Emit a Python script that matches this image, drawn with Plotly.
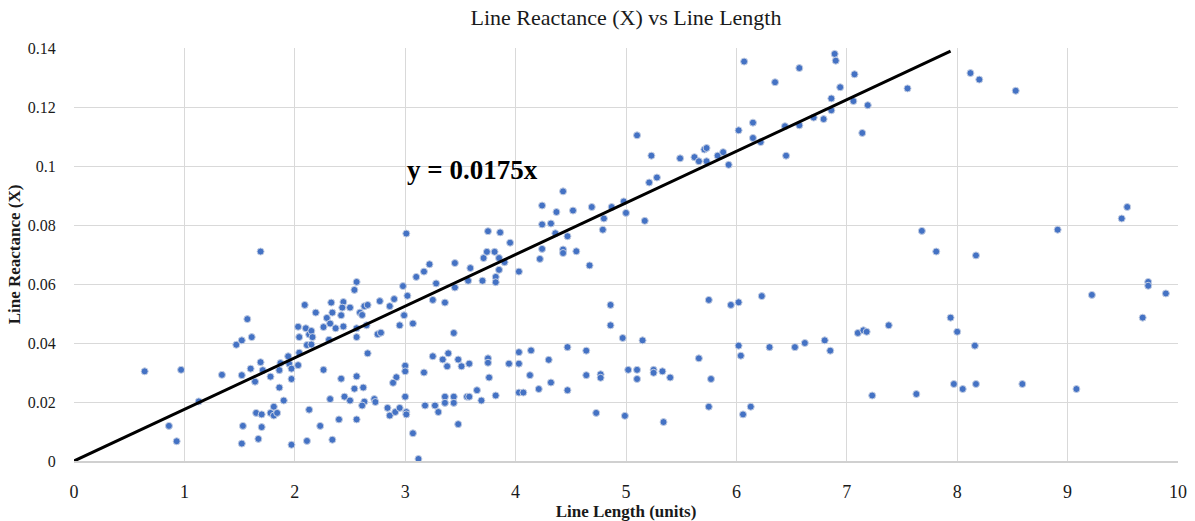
import plotly.graph_objects as go

# Line length (units) and line reactance (X)
line_length = [
    0.64, 0.97, 0.86, 0.93, 1.13, 1.34, 1.47, 1.52, 1.52, 1.53, 1.52, 1.57, 1.60, 1.61, 1.64, 1.65,
    1.67, 1.69, 1.69, 1.70, 1.70, 1.71, 1.78, 1.78, 1.81, 1.81, 1.84, 1.86, 1.86, 1.87, 1.90, 1.94,
    1.95, 1.97, 1.97, 1.97, 2.03, 2.03, 2.04, 2.04, 2.09, 2.10, 2.11, 2.11, 2.13, 2.13,
    2.56, 2.54, 3.22, 3.17, 3.10, 3.45, 3.71, 3.74, 3.81, 3.85, 3.90, 3.85, 4.03, 3.82, 3.82, 3.70,
    3.57, 3.59, 4.22, 3.28, 3.45, 2.98, 3.02, 2.90, 3.25, 3.36, 2.77, 2.86, 2.99, 3.07, 2.95, 3.44,
    2.33, 2.44, 2.50, 2.43, 2.34, 2.19, 2.59, 2.63, 2.66, 2.61, 2.42, 2.29, 2.32, 2.37, 2.44, 2.26,
    2.15, 2.16, 2.15, 2.56, 2.56, 2.65, 2.75, 2.78, 2.31, 2.66, 2.26, 2.42, 2.56, 2.92, 2.89, 3.00,
    3.00, 3.17, 3.25, 3.34, 3.39, 3.38, 3.48, 3.51, 3.58, 3.75, 3.75, 3.76, 3.94, 4.03, 4.03, 4.14,
    4.13, 4.21, 4.03, 4.07, 2.54, 2.62, 2.45, 2.32, 2.50, 2.63, 2.72, 2.73, 2.61, 2.84, 2.86, 2.91,
    2.95, 3.00, 3.01, 3.01, 3.18, 3.27, 3.30, 3.36, 3.36, 3.44, 3.44, 3.56, 3.58, 3.65, 3.69, 3.82,
    3.48, 2.23, 2.40, 2.56, 2.34, 3.07, 3.12, 3.01,
    3.75, 3.86, 3.95, 4.43, 4.24, 4.37, 4.52, 4.24, 4.32, 4.36, 4.47, 4.43, 4.43, 4.55, 4.24,
    7.86, 6.89, 6.90, 6.07, 6.57, 6.35, 7.07, 6.94, 7.55, 6.86, 7.06, 7.19, 6.86, 6.79, 6.70, 6.57,
    6.44, 7.14, 6.45, 6.15, 6.02, 6.15, 6.22, 5.10, 5.23, 5.21, 5.28, 5.49, 5.62, 5.66, 5.71, 5.73,
    5.73, 5.83, 5.88, 5.93, 4.69, 4.87, 4.98, 4.80, 5.00, 5.17, 4.79, 7.68, 7.81,
    4.67, 4.86, 4.86, 4.97, 5.15, 5.75, 5.95, 6.02, 6.23, 6.02, 6.04, 6.30, 5.66, 5.77, 5.75, 6.06,
    6.13, 4.30, 4.47, 4.64, 4.32, 4.47, 4.64, 4.77, 4.77, 4.73, 4.99, 5.02, 5.10, 5.10, 5.25, 5.25,
    5.33, 5.40, 5.34,
    8.17, 6.53, 6.62, 6.80, 6.85, 7.10, 7.15, 7.18, 7.38, 7.94, 8.00, 8.16, 7.23, 7.63, 7.97, 8.05, 8.17,
    9.54, 9.49, 8.91, 9.73, 9.73, 9.89, 9.22, 9.68, 8.59, 9.08,
    8.12, 8.20, 8.53,
]
line_reactance = [
    0.0304, 0.0309, 0.0119, 0.0067, 0.0202, 0.0292, 0.0394, 0.0409, 0.0291, 0.0119, 0.0059, 0.0481, 0.0313, 0.0420, 0.0269, 0.0163,
    0.0075, 0.0710, 0.0335, 0.0158, 0.0115, 0.0308, 0.0286, 0.0163, 0.0184, 0.0154, 0.0163, 0.0308, 0.0249, 0.0332, 0.0205, 0.0355,
    0.0329, 0.0313, 0.0278, 0.0055, 0.0325, 0.0455, 0.0420, 0.0367, 0.0529, 0.0450, 0.0393, 0.0068, 0.0429, 0.0174,
    0.0607, 0.0580, 0.0667, 0.0642, 0.0624, 0.0671, 0.0688, 0.0709, 0.0709, 0.0688, 0.0674, 0.0648, 0.0642, 0.0624, 0.0606, 0.0611,
    0.0611, 0.0654, 0.0685, 0.0602, 0.0588, 0.0593, 0.0560, 0.0549, 0.0546, 0.0537, 0.0542, 0.0525, 0.0494, 0.0466, 0.0460, 0.0434,
    0.0537, 0.0539, 0.0520, 0.0520, 0.0503, 0.0503, 0.0503, 0.0525, 0.0529, 0.0495, 0.0494, 0.0485, 0.0466, 0.0450, 0.0456, 0.0454,
    0.0441, 0.0420, 0.0395, 0.0450, 0.0420, 0.0460, 0.0430, 0.0435, 0.0411, 0.0365, 0.0309, 0.0279, 0.0287, 0.0284, 0.0265, 0.0323,
    0.0304, 0.0300, 0.0355, 0.0344, 0.0365, 0.0321, 0.0344, 0.0321, 0.0330, 0.0348, 0.0333, 0.0283, 0.0330, 0.0369, 0.0330, 0.0375,
    0.0291, 0.0244, 0.0232, 0.0232, 0.0245, 0.0249, 0.0218, 0.0210, 0.0205, 0.0201, 0.0210, 0.0200, 0.0188, 0.0180, 0.0154, 0.0166,
    0.0180, 0.0218, 0.0166, 0.0158, 0.0188, 0.0188, 0.0166, 0.0218, 0.0197, 0.0218, 0.0197, 0.0218, 0.0218, 0.0240, 0.0205, 0.0222,
    0.0125, 0.0119, 0.0141, 0.0141, 0.0072, 0.0094, 0.0007, 0.0771,
    0.0779, 0.0775, 0.0740, 0.0914, 0.0866, 0.0844, 0.0849, 0.0802, 0.0805, 0.0772, 0.0762, 0.0717, 0.0705, 0.0711, 0.0719,
    0.1415, 0.1380, 0.1357, 0.1354, 0.1332, 0.1284, 0.1311, 0.1267, 0.1263, 0.1229, 0.1220, 0.1206, 0.1189, 0.1159, 0.1164, 0.1138,
    0.1135, 0.1112, 0.1035, 0.1147, 0.1121, 0.1095, 0.1081, 0.1104, 0.1035, 0.0944, 0.0961, 0.1026, 0.1030, 0.1016, 0.1056, 0.1061,
    0.1016, 0.1035, 0.1047, 0.1004, 0.0861, 0.0861, 0.0880, 0.0822, 0.0841, 0.0814, 0.0784, 0.0780, 0.0710,
    0.0663, 0.0529, 0.0460, 0.0417, 0.0409, 0.0546, 0.0529, 0.0538, 0.0559, 0.0391, 0.0357, 0.0386, 0.0348, 0.0278, 0.0184, 0.0158,
    0.0184, 0.0343, 0.0386, 0.0374, 0.0266, 0.0240, 0.0291, 0.0294, 0.0282, 0.0163, 0.0153, 0.0309, 0.0309, 0.0278, 0.0309, 0.0299,
    0.0304, 0.0283, 0.0132,
    0.0697, 0.0386, 0.0400, 0.0409, 0.0374, 0.0434, 0.0443, 0.0438, 0.0460, 0.0486, 0.0438, 0.0391, 0.0222, 0.0227, 0.0261, 0.0244, 0.0261,
    0.0861, 0.0822, 0.0784, 0.0607, 0.0594, 0.0568, 0.0563, 0.0486, 0.0261, 0.0244,
    0.1315, 0.1293, 0.1255,
]

slope = 0.0175
trend_x = [0, 7.94]
trend_y = [slope * v for v in trend_x]
trend_label = "y = 0.0175x"

x_ticks = list(range(0, 11))
y_ticks = [0, 0.02, 0.04, 0.06, 0.08, 0.1, 0.12, 0.14]
y_tick_text = ["0", "0.02", "0.04", "0.06", "0.08", "0.1", "0.12", "0.14"]

SERIF = "Liberation Serif, Times New Roman, serif"

fig = go.Figure()
fig.add_trace(go.Scatter(
    x=line_length, y=line_reactance, mode="markers",
    marker=dict(color="#4472C4", size=7, line=dict(color="#c5cfe3", width=1)),
    showlegend=False, hoverinfo="x+y",
))
fig.add_trace(go.Scatter(
    x=trend_x, y=trend_y, mode="lines",
    line=dict(color="black", width=3),
    showlegend=False, hoverinfo="skip",
))

fig.add_annotation(
    x=3.61, y=0.0985, xref="x", yref="y", text="<b>" + trend_label + "</b>",
    showarrow=False, font=dict(family=SERIF, size=27, color="black"),
)

fig.update_layout(
    width=1195, height=521,
    margin=dict(l=74, r=17, t=48, b=60),
    paper_bgcolor="white", plot_bgcolor="white",
    title=dict(text="Line Reactance (X) vs Line Length", x=0.5, xref="paper", xanchor="center",
               y=0.966, yanchor="middle",
               font=dict(family=SERIF, size=22, color="#1a1a1a")),
    font=dict(family=SERIF, size=16, color="#1a1a1a"),
)
fig.update_xaxes(
    range=[0, 10], tickvals=x_ticks, showgrid=True, gridcolor="#d9d9d9", gridwidth=1,
    zeroline=False, showline=True, linecolor="#d0d0d0", linewidth=1.5,
    ticks="outside", ticklen=14, tickcolor="rgba(0,0,0,0)", automargin=False,
    tickfont=dict(family=SERIF, size=18, color="#1a1a1a"),
    title=dict(text="<b>Line Length (units)</b>", standoff=0,
               font=dict(family=SERIF, size=17, color="#1a1a1a")),
)
fig.update_yaxes(
    range=[0, 0.14], tickvals=y_ticks, ticktext=y_tick_text, showgrid=True,
    gridcolor="#d9d9d9", gridwidth=1, zeroline=False, showline=False,
    ticks="outside", ticklen=14, tickcolor="rgba(0,0,0,0)", automargin=False,
    tickfont=dict(family=SERIF, size=16, color="#1a1a1a"),
    title=dict(text="<b>Line Reactance (X)</b>", standoff=2,
               font=dict(family=SERIF, size=17, color="#1a1a1a")),
)

fig.write_html("out.html")
